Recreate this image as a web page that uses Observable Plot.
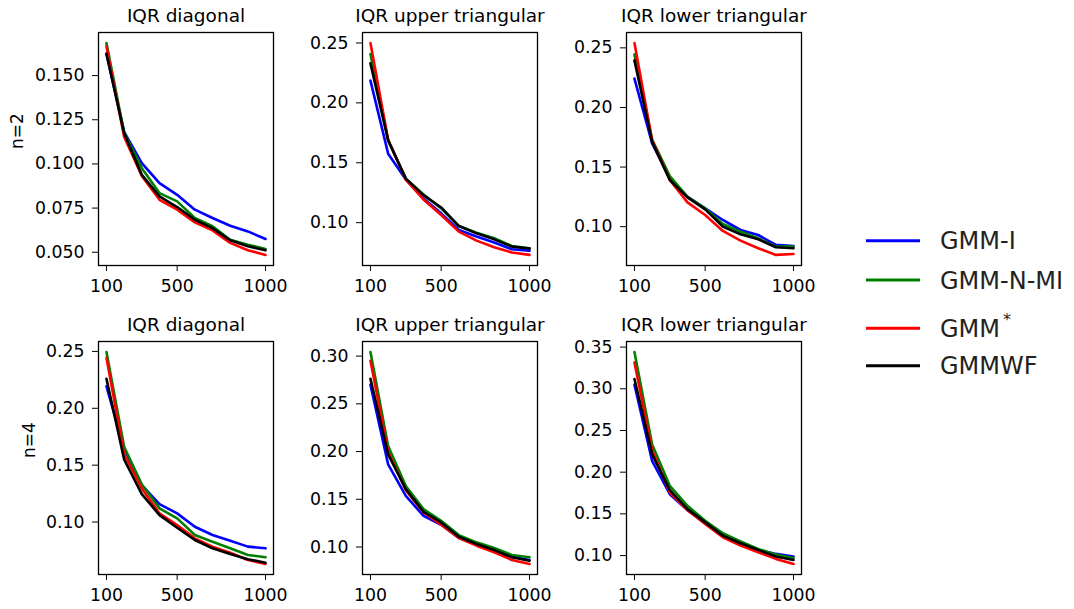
<!DOCTYPE html>
<html><head><meta charset="utf-8">
<script src="https://cdn.jsdelivr.net/npm/d3@7"></script>
<script src="https://cdn.jsdelivr.net/npm/@observablehq/plot@0.6"></script>
<style>
html,body{margin:0;padding:0;background:#fff;}
#wrap{position:relative;width:1074px;height:609px;overflow:hidden;font-family:"DejaVu Sans";background:#fff;}
#wrap > svg{position:absolute;}
</style></head><body><div id="wrap"></div>
<script>
const sampleSizes = [100, 200, 300, 400, 500, 600, 700, 800, 900, 1000];
const seriesNames = ["GMM-I", "GMM-N-MI", "GMM*", "GMMWF"];
const seriesColors = ["#0000ff", "#008000", "#ff0000", "#000000"];
const panelTitles = ["IQR diagonal", "IQR upper triangular", "IQR lower triangular"];
const rowLabels = ["n=2", "n=4"];
const xTicks = [100, 500, 1000];

// n=2, IQR diagonal
const n2DiagGMMI   = [0.1624, 0.1182, 0.1004, 0.0891, 0.0825, 0.0741, 0.0694, 0.0650, 0.0618, 0.0575];
const n2DiagGMMNMI = [0.1684, 0.1177, 0.0976, 0.0835, 0.0788, 0.0694, 0.0647, 0.0571, 0.0543, 0.0519];
const n2DiagGMMs   = [0.1666, 0.1154, 0.0932, 0.0797, 0.0741, 0.0669, 0.0624, 0.0553, 0.0511, 0.0485];
const n2DiagGMMWF  = [0.1624, 0.1173, 0.0938, 0.0816, 0.0756, 0.0684, 0.0637, 0.0568, 0.0534, 0.0511];
// n=2, IQR upper triangular
const n2UpGMMI   = [0.2186, 0.1576, 0.1360, 0.1202, 0.1078, 0.0939, 0.0884, 0.0834, 0.0778, 0.0767];
const n2UpGMMNMI = [0.2407, 0.1687, 0.1368, 0.1235, 0.1119, 0.0972, 0.0917, 0.0870, 0.0806, 0.0787];
const n2UpGMMs   = [0.2499, 0.1693, 0.1360, 0.1194, 0.1064, 0.0925, 0.0850, 0.0795, 0.0751, 0.0731];
const n2UpGMMWF  = [0.2330, 0.1687, 0.1368, 0.1230, 0.1127, 0.0972, 0.0911, 0.0861, 0.0800, 0.0784];
// n=2, IQR lower triangular
const n2LowGMMI   = [0.2242, 0.1698, 0.1405, 0.1251, 0.1153, 0.1056, 0.0972, 0.0930, 0.0847, 0.0838];
const n2LowGMMNMI = [0.2445, 0.1731, 0.1424, 0.1251, 0.1153, 0.1022, 0.0958, 0.0902, 0.0833, 0.0833];
const n2LowGMMs   = [0.2540, 0.1725, 0.1391, 0.1204, 0.1098, 0.0964, 0.0883, 0.0819, 0.0763, 0.0771];
const n2LowGMMWF  = [0.2395, 0.1711, 0.1391, 0.1246, 0.1145, 0.1000, 0.0936, 0.0894, 0.0827, 0.0819];
// n=4, IQR diagonal
const n4DiagGMMI   = [0.2193, 0.1646, 0.1325, 0.1158, 0.1076, 0.0959, 0.0886, 0.0836, 0.0784, 0.0769];
const n4DiagGMMNMI = [0.2494, 0.1661, 0.1330, 0.1120, 0.1032, 0.0886, 0.0827, 0.0769, 0.0711, 0.0690];
const n4DiagGMMs   = [0.2444, 0.1596, 0.1295, 0.1076, 0.0974, 0.0857, 0.0784, 0.0731, 0.0667, 0.0632];
const n4DiagGMMWF  = [0.2260, 0.1550, 0.1246, 0.1061, 0.0950, 0.0842, 0.0769, 0.0719, 0.0673, 0.0643];
// n=4, IQR upper triangular
const n4UpGMMI   = [0.2701, 0.1866, 0.1536, 0.1327, 0.1233, 0.1094, 0.1031, 0.0962, 0.0899, 0.0864];
const n4UpGMMNMI = [0.3042, 0.2057, 0.1640, 0.1397, 0.1275, 0.1125, 0.1049, 0.0990, 0.0917, 0.0892];
const n4UpGMMs   = [0.2951, 0.1998, 0.1595, 0.1362, 0.1233, 0.1094, 0.1014, 0.0944, 0.0864, 0.0823];
const n4UpGMMWF  = [0.2763, 0.1970, 0.1605, 0.1369, 0.1257, 0.1108, 0.1031, 0.0969, 0.0892, 0.0857];
// n=4, IQR lower triangular
const n4LowGMMI   = [0.3050, 0.2134, 0.1736, 0.1545, 0.1398, 0.1251, 0.1139, 0.1068, 0.1020, 0.0988];
const n4LowGMMNMI = [0.3440, 0.2333, 0.1836, 0.1597, 0.1418, 0.1267, 0.1171, 0.1080, 0.1012, 0.0972];
const n4LowGMMs   = [0.3316, 0.2262, 0.1756, 0.1545, 0.1378, 0.1219, 0.1119, 0.1040, 0.0960, 0.0900];
const n4LowGMMWF  = [0.3117, 0.2214, 0.1784, 0.1557, 0.1398, 0.1239, 0.1147, 0.1068, 0.0988, 0.0948];

// y tick values
const n2DiagTicks = [0.050, 0.075, 0.100, 0.125, 0.150];
const n2UpTicks   = [0.10, 0.15, 0.20, 0.25];
const n2LowTicks  = [0.10, 0.15, 0.20, 0.25];
const n4DiagTicks = [0.10, 0.15, 0.20, 0.25];
const n4UpTicks   = [0.10, 0.15, 0.20, 0.25, 0.30];
const n4LowTicks  = [0.10, 0.15, 0.20, 0.25, 0.30, 0.35];

const wrap = document.getElementById("wrap");
const FW = 175, FH = 233, MT = 32, MB = 42, MR = 28;

function panel({values, yTicks, yFormat, title, rowLabel, labelX, left, top, marginLeft}) {
  const all = values.flat();
  const lo = d3.min(all), hi = d3.max(all), pad = (hi - lo) * 0.05;
  const marks = [];
  values.forEach((vals, k) => {
    marks.push(Plot.line(sampleSizes.map((x, i) => ({x, y: vals[i]})),
      {x: "x", y: "y", stroke: seriesColors[k], strokeWidth: 2.6}));
  });
  marks.push(Plot.frame({stroke: "#000", strokeWidth: 1.3}));
  marks.push(Plot.text([title], {text: d => d, frameAnchor: "top", lineAnchor: "bottom", dy: -10.6, fontSize: 18.5, fill: "#000"}));
  if (rowLabel) marks.push(Plot.text([rowLabel], {text: d => d, frameAnchor: "left", rotate: -90, dx: labelX - marginLeft, fontSize: 17, fill: "#000"}));
  const p = Plot.plot({
    width: marginLeft + FW + MR, height: MT + FH + MB,
    marginLeft, marginRight: MR, marginTop: MT, marginBottom: MB,
    style: {fontFamily: "DejaVu Sans", fontSize: "17.3px", background: "transparent", color: "#000", overflow: "visible"},
    x: {domain: [55, 1045], ticks: xTicks, tickFormat: d3.format("d"), label: null, tickSize: 6, tickPadding: 8},
    y: {domain: [lo - pad, hi + pad], ticks: yTicks, tickFormat: d3.format(yFormat), label: null, tickSize: 6, tickPadding: 8},
    marks
  });
  p.style.left = (left - marginLeft) + "px";
  p.style.top = (top - MT) + "px";
  wrap.appendChild(p);
}

const colLeft = [98, 362, 626];
const rowTop = [32, 341];

panel({values: [n2DiagGMMI, n2DiagGMMNMI, n2DiagGMMs, n2DiagGMMWF], yTicks: n2DiagTicks, yFormat: ".3f",
  title: panelTitles[0], rowLabel: rowLabels[0], labelX: 17.5, left: colLeft[0], top: rowTop[0], marginLeft: 98});
panel({values: [n2UpGMMI, n2UpGMMNMI, n2UpGMMs, n2UpGMMWF], yTicks: n2UpTicks, yFormat: ".2f",
  title: panelTitles[1], left: colLeft[1], top: rowTop[0], marginLeft: 70});
panel({values: [n2LowGMMI, n2LowGMMNMI, n2LowGMMs, n2LowGMMWF], yTicks: n2LowTicks, yFormat: ".2f",
  title: panelTitles[2], left: colLeft[2], top: rowTop[0], marginLeft: 70});
panel({values: [n4DiagGMMI, n4DiagGMMNMI, n4DiagGMMs, n4DiagGMMWF], yTicks: n4DiagTicks, yFormat: ".2f",
  title: panelTitles[0], rowLabel: rowLabels[1], labelX: 29, left: colLeft[0], top: rowTop[1], marginLeft: 98});
panel({values: [n4UpGMMI, n4UpGMMNMI, n4UpGMMs, n4UpGMMWF], yTicks: n4UpTicks, yFormat: ".2f",
  title: panelTitles[1], left: colLeft[1], top: rowTop[1], marginLeft: 70});
panel({values: [n4LowGMMI, n4LowGMMNMI, n4LowGMMs, n4LowGMMWF], yTicks: n4LowTicks, yFormat: ".2f",
  title: panelTitles[2], left: colLeft[2], top: rowTop[1], marginLeft: 70});

// legend
const legendY = [40.7, 80, 128.3, 165.7];
const lg = d3.select(wrap).append("svg")
  .attr("width", 234).attr("height", 200)
  .style("left", "840px").style("top", "200px")
  .attr("font-family", "DejaVu Sans");
seriesNames.forEach((name, i) => {
  lg.append("line").attr("x1", 26).attr("x2", 80).attr("y1", legendY[i]).attr("y2", legendY[i])
    .attr("stroke", seriesColors[i]).attr("stroke-width", 3);
  const t = lg.append("text").attr("x", 100).attr("y", legendY[i] + 8.7)
    .attr("font-size", 24).attr("fill", "#222");
  if (name.endsWith("*")) {
    t.append("tspan").text(name.slice(0, -1));
    t.append("tspan").attr("dx", 3).attr("dy", -12).attr("font-size", 16).text("*");
  } else {
    t.text(name);
  }
});
</script></body></html>
